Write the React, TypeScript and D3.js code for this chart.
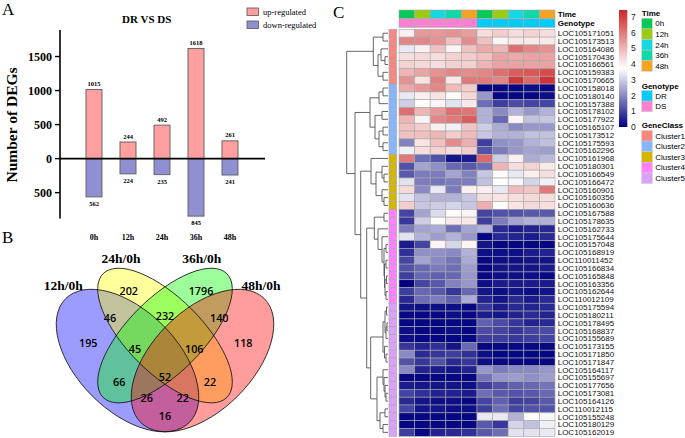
import React from "react";
import * as d3 from "d3";

// ---------- Panel A data ----------
const timePoints = ["0h", "12h", "24h", "36h", "48h"];
const upRegulated = [1015, 244, 492, 1618, 261];
const downRegulated = [562, 224, 235, 845, 241];
const yTicksA = [-500, 0, 500, 1000, 1500];

// ---------- Panel B data ----------
const vennSetNames = ["12h/0h", "24h/0h", "36h/0h", "48h/0h"];
const vennSetColors = ["#0000ff", "#ffff00", "#00ff00", "#ff0000"];
const vennCounts = [195, 202, 1796, 118, 46, 232, 140, 45, 106, 66, 52, 22, 26, 22, 16];
// label anchor positions in VennDiagram unit space
const vennLabelU = [0.193, 0.355, 0.644, 0.813, 0.28, 0.5, 0.717, 0.38, 0.617, 0.317, 0.5, 0.68, 0.427, 0.571, 0.5];
const vennLabelV = [0.541, 0.748, 0.748, 0.541, 0.639, 0.648, 0.639, 0.516, 0.516, 0.385, 0.405, 0.385, 0.321, 0.321, 0.248];

// ---------- Panel C data ----------
const genes = [
  "LOC105171051", "LOC105173513", "LOC105164086", "LOC105170436", "LOC105166561", "LOC105159383", "LOC105170665",
  "LOC105158018", "LOC105180140", "LOC105157388", "LOC105178102", "LOC105177922", "LOC105165107", "LOC105173512",
  "LOC105175593", "LOC105162296", "LOC105161968", "LOC105180301", "LOC105166549", "LOC105166472", "LOC105160901",
  "LOC105160356", "LOC105160636", "LOC105167588", "LOC105178635", "LOC105162733", "LOC105175644", "LOC105157048",
  "LOC105168919", "LOC110011452", "LOC105166834", "LOC105165848", "LOC105163356", "LOC105162644", "LOC110012109",
  "LOC105175594", "LOC105180211", "LOC105178495", "LOC105168837", "LOC105155689", "LOC105173155", "LOC105171850",
  "LOC105171847", "LOC105164117", "LOC105155697", "LOC105177656", "LOC105173081", "LOC105164126", "LOC110012115",
  "LOC105155248", "LOC105180129", "LOC105162019",
];
const geneClusters = [
  1, 1, 1, 1, 1, 1, 1,
  2, 2, 2, 2, 2, 2, 2, 2, 2,
  3, 3, 3, 3, 3, 3, 3,
  4, 4, 4, 4, 4, 4, 4, 4, 4, 4, 4, 4,
  5, 5, 5, 5, 5, 5, 5, 5, 5, 5, 5, 5, 5, 5, 5, 5, 5,
];
const columnTime = ["0h", "12h", "24h", "36h", "48h", "0h", "12h", "24h", "36h", "48h"];
const columnGenotype = ["DS", "DS", "DS", "DS", "DS", "DR", "DR", "DR", "DR", "DR"];
const expression = [
  [4.0, 5.5, 5.5, 5.6, 5.4, 4.3, 4.6, 4.3, 4.5, 4.3],
  [5.8, 5.8, 5.6, 4.8, 5.7, 4.8, 3.9, 4.1, 4.1, 4.1],
  [3.4, 4.0, 4.8, 3.9, 4.8, 5.2, 5.0, 6.2, 5.8, 5.6],
  [4.3, 4.4, 4.3, 4.5, 4.6, 4.8, 5.3, 5.2, 5.3, 5.3],
  [4.5, 4.4, 4.3, 4.5, 4.5, 5.0, 5.3, 5.3, 5.3, 5.3],
  [5.0, 5.3, 5.6, 5.8, 5.7, 5.8, 6.2, 6.5, 6.6, 6.8],
  [5.6, 4.2, 5.9, 4.1, 6.0, 6.0, 5.8, 7.1, 6.3, 7.2],
  [5.2, 5.5, 5.8, 4.9, 4.6, 0.1, 0.1, 0.1, 0.2, 0.1],
  [3.4, 4.0, 4.2, 3.8, 4.4, 2.2, 0.1, 0.1, 0.1, 0.2],
  [3.0, 3.8, 3.9, 3.3, 4.1, 1.6, 0.9, 1.1, 1.0, 1.0],
  [6.2, 5.0, 5.5, 6.2, 6.1, 2.6, 2.0, 2.6, 2.2, 2.6],
  [5.0, 3.9, 5.8, 6.0, 6.5, 2.6, 1.5, 3.9, 2.8, 2.9],
  [4.8, 4.6, 4.0, 3.5, 4.7, 3.0, 2.5, 2.0, 2.2, 2.2],
  [4.8, 4.8, 5.0, 4.6, 4.9, 2.9, 2.6, 2.6, 2.8, 2.8],
  [1.9, 4.2, 4.8, 5.7, 5.1, 0.9, 2.1, 2.2, 2.6, 2.8],
  [3.5, 4.3, 4.5, 4.3, 4.6, 1.2, 1.8, 2.2, 2.4, 2.3],
  [6.0, 1.6, 1.2, 0.3, 0.4, 6.3, 3.0, 4.0, 2.5, 2.7],
  [1.2, 2.4, 2.1, 1.5, 1.3, 1.6, 5.0, 4.3, 4.5, 4.1],
  [1.3, 1.8, 1.8, 2.4, 1.9, 2.9, 3.8, 3.4, 4.0, 4.3],
  [3.3, 1.8, 1.7, 1.8, 1.8, 2.8, 3.7, 3.6, 3.1, 3.5],
  [4.4, 2.0, 3.4, 1.8, 4.0, 4.0, 3.4, 4.9, 4.7, 6.0],
  [3.3, 2.8, 2.6, 2.6, 2.9, 4.3, 4.2, 4.3, 4.4, 4.3],
  [4.6, 2.9, 3.0, 3.1, 2.9, 5.1, 3.8, 4.2, 4.4, 4.3],
  [1.0, 2.4, 3.2, 3.8, 3.9, 1.0, 1.2, 1.2, 1.3, 1.3],
  [0.8, 3.0, 3.8, 4.1, 4.1, 0.9, 1.8, 2.4, 2.6, 2.6],
  [1.8, 2.4, 2.5, 1.6, 2.4, 2.6, 0.6, 0.4, 0.5, 0.6],
  [3.3, 2.6, 2.3, 2.6, 2.2, 0.1, 0.6, 0.5, 0.4, 0.6],
  [0.4, 1.0, 3.9, 3.1, 3.9, 0.3, 0.1, 0.1, 0.1, 0.1],
  [0.7, 2.1, 2.1, 2.0, 2.6, 0.2, 0.2, 0.2, 0.4, 0.5],
  [1.0, 2.4, 2.0, 1.7, 2.5, 0.1, 0.2, 0.2, 0.3, 0.3],
  [1.2, 1.5, 1.8, 1.6, 2.3, 0.1, 0.3, 0.3, 0.3, 0.4],
  [0.9, 1.5, 1.4, 1.5, 2.2, 0.1, 0.2, 0.2, 0.2, 0.1],
  [0.0, 1.0, 1.3, 1.9, 2.2, 0.2, 0.4, 0.4, 0.4, 0.4],
  [0.9, 1.5, 1.3, 0.8, 1.5, 0.3, 0.2, 0.3, 0.2, 0.3],
  [0.6, 1.6, 1.8, 1.4, 2.5, 0.5, 0.3, 0.6, 0.4, 0.6],
  [0.3, 0.2, 0.2, 0.2, 0.1, 0.8, 0.4, 0.6, 0.5, 0.6],
  [0.1, 0.1, 0.1, 0.2, 0.1, 0.4, 0.3, 0.5, 0.6, 0.5],
  [0.1, 0.1, 0.1, 0.1, 0.1, 1.4, 1.1, 0.8, 0.5, 0.6],
  [0.2, 0.1, 0.1, 0.2, 0.1, 1.1, 1.0, 0.8, 1.0, 1.1],
  [0.2, 0.1, 0.1, 0.1, 0.1, 0.9, 0.9, 0.8, 0.9, 1.0],
  [0.8, 0.5, 0.7, 0.3, 1.5, 0.1, 0.1, 0.1, 0.1, 0.1],
  [2.0, 0.6, 0.8, 0.9, 0.7, 0.2, 0.1, 0.1, 0.1, 0.1],
  [1.2, 0.8, 1.2, 0.6, 0.8, 0.2, 0.1, 0.1, 0.1, 0.1],
  [2.0, 0.5, 0.4, 0.3, 0.5, 2.2, 1.8, 2.0, 2.0, 2.2],
  [0.1, 0.1, 0.1, 0.1, 0.1, 1.7, 2.2, 2.3, 2.1, 2.3],
  [0.4, 0.3, 0.3, 0.3, 0.2, 0.9, 1.2, 1.4, 1.5, 1.7],
  [1.0, 0.7, 0.5, 0.5, 0.4, 1.6, 1.3, 1.2, 1.3, 1.5],
  [0.6, 0.3, 0.2, 0.2, 0.1, 1.0, 1.4, 0.9, 1.0, 1.3],
  [1.0, 0.3, 0.3, 0.2, 0.2, 0.9, 1.6, 1.0, 1.2, 1.2],
  [0.1, 0.1, 0.1, 0.1, 0.1, 3.4, 3.4, 2.6, 3.7, 3.6],
  [0.1, 0.1, 0.1, 0.1, 0.1, 1.3, 0.8, 3.1, 2.8, 3.5],
  [0.9, 0.1, 0.5, 0.6, 0.7, 1.3, 1.6, 3.3, 3.3, 3.4],
];
const colorTicks = [0, 1, 2, 3, 4, 5, 6, 7];
const genotypeNames = ["DR", "DS"];
const clusterNames = ["Cluster1", "Cluster2", "Cluster3", "Cluster4", "Cluster5"];

// Row dendrogram: [height, left, right] or leaf row index
const rowTree: any = [41.3,
  [14.7, [5, 0, 1], [10, [7, 2, [3, 3, 4]], [5, 5, 6]]],
  [33,
    [18, [9, [5, 7, 8], 9], [13, [6, 10, 11], [9, [5, 12, 13], [5, 14, 15]]]],
    [27.3,
      [17, 16, [12, [6, 17, [4, 18, 19]], [6, 20, [4, 21, 22]]]],
      [21.3,
        [13.7, [4, 23, 24], [10, 25, [6, 26, [4, [2, 27, 28], [3.5, [2, 29, 30], [3, [1.5, 31, 32], [2, 33, 34]]]]]]],
        [17.3,
          [5, [3, [1.5, 35, 36], [2, [1, 37, 38], 39]], [3.5, 40, [2, 41, 42]]],
          [11, [5, 43, [4, 44, [3, 45, [2, 46, 47]]]], [8, [3, 48, 49], [5, 50, 51]]]]]]]];

// ---------- colours ----------
const upColor = "#FF9F9F";
const downColor = "#8F8FD2";
const timeColors: Record<string, string> = { "0h": "#06C957", "12h": "#9BCB13", "24h": "#14D9E0", "36h": "#0FD9A6", "48h": "#F5A323" };
const genotypeColors: Record<string, string> = { DR: "#00CCF7", DS: "#FB80D2" };
const clusterColors = ["#F8887F", "#85B6FF", "#D4B500", "#FF80FF", "#DBA0F7"];

const serif = "'Liberation Serif', 'Times New Roman', serif";
const sans = "'Liberation Sans', Arial, sans-serif";

function PanelA() {
  const x = d3.scaleBand<string>().domain(timePoints).range([60, 264]).paddingInner(0.53).paddingOuter(0.765);
  const y = d3.scaleLinear().domain([-880, 1890]).range([218.5, 30]);
  const bw = x.bandwidth();
  return (
    <g fill="#000">
      <text x={2} y={15} fontFamily={serif} fontSize={17}>A</text>
      <text x={146.7} y={23} textAnchor="middle" fontFamily={serif} fontWeight="bold" fontSize={11}>DR VS DS</text>
      {/* legend */}
      <rect x={247} y={8} width={11.5} height={7.5} fill={upColor} stroke="#555" strokeWidth={0.8} />
      <text x={263} y={14.5} fontFamily={serif} fontSize={8.5}>up-regulated</text>
      <rect x={247} y={21} width={11.5} height={7.5} fill={downColor} stroke="#555" strokeWidth={0.8} />
      <text x={263} y={27.5} fontFamily={serif} fontSize={8.5}>down-regulated</text>
      {/* bars */}
      {timePoints.map((t, i) => (
        <g key={t}>
          <rect x={x(t)} y={y(upRegulated[i])} width={bw} height={y(0) - y(upRegulated[i])} fill={upColor} stroke="#666" strokeWidth={1} />
          <rect x={x(t)} y={y(0)} width={bw} height={y(-downRegulated[i]) - y(0)} fill={downColor} stroke="#666" strokeWidth={1} />
          <text x={(x(t) as number) + bw / 2} y={y(upRegulated[i]) - 3.5} textAnchor="middle" fontFamily={serif} fontWeight="bold" fontSize={6.5}>{upRegulated[i]}</text>
          <text x={(x(t) as number) + bw / 2} y={y(-downRegulated[i]) + 9} textAnchor="middle" fontFamily={serif} fontWeight="bold" fontSize={6.5}>{downRegulated[i]}</text>
          <text x={(x(t) as number) + bw / 2} y={239.5} textAnchor="middle" fontFamily={serif} fontWeight="bold" fontSize={8}>{t}</text>
        </g>
      ))}
      {/* axes */}
      <line x1={60} x2={60} y1={30} y2={218.5} stroke="#000" strokeWidth={1.6} />
      <line x1={60} x2={265} y1={y(0)} y2={y(0)} stroke="#000" strokeWidth={1.6} />
      {yTicksA.map((t) => (
        <g key={t}>
          <line x1={55} x2={60} y1={y(t)} y2={y(t)} stroke="#000" strokeWidth={1.4} />
          <text x={52} y={y(t)} dy="0.35em" textAnchor="end" fontFamily={serif} fontWeight="bold" fontSize={12}>{Math.abs(t)}</text>
        </g>
      ))}
      <text transform="translate(17,125) rotate(-90)" textAnchor="middle" fontFamily={serif} fontWeight="bold" fontSize={15.5}>Number of DEGs</text>
    </g>
  );
}

function PanelB() {
  const s = 250;
  const px = d3.scaleLinear().domain([0.5, 1.5]).range([165, 165 + s]);
  const py = d3.scaleLinear().domain([0.839, -0.161]).range([268.3, 268.3 + s]);
  const ell = [
    { cx: 0.35, cy: 0.47, a: 0.35, b: 0.2, r: 45 },
    { cx: 0.5, cy: 0.57, a: 0.35, b: 0.15, r: 45 },
    { cx: 0.5, cy: 0.57, a: 0.35, b: 0.15, r: -45 },
    { cx: 0.65, cy: 0.47, a: 0.35, b: 0.2, r: -45 },
  ];
  const setLabelPos = [[0.093, 0.773], [0.324, 0.879], [0.647, 0.879], [0.884, 0.773]];
  return (
    <g fill="#000">
      <text x={2} y={243} fontFamily={serif} fontSize={17}>B</text>
      {ell.map((e, i) => (
        <ellipse key={"f" + i} cx={0} cy={0} rx={e.a * s} ry={e.b * s}
          transform={`translate(${px(e.cx)},${py(e.cy)}) rotate(${e.r})`}
          fill={vennSetColors[i]} fillOpacity={0.39} stroke="none" />
      ))}
      {ell.map((e, i) => (
        <ellipse key={"o" + i} cx={0} cy={0} rx={e.a * s} ry={e.b * s}
          transform={`translate(${px(e.cx)},${py(e.cy)}) rotate(${e.r})`}
          fill="none" stroke="#111" strokeWidth={0.8} />
      ))}
      {vennCounts.map((c, i) => (
        <text key={i} x={px(vennLabelU[i])} y={py(vennLabelV[i])} dy="0.36em" textAnchor="middle"
          fontFamily="'Open Sans', sans-serif" fontWeight={600} fontSize={10.8}>{c}</text>
      ))}
      {vennSetNames.map((n, i) => (
        <text key={n} x={px(setLabelPos[i][0])} y={py(setLabelPos[i][1])} dy="0.35em" textAnchor="middle"
          fontFamily={serif} fontWeight="bold" fontSize={13.5}>{n}</text>
      ))}
    </g>
  );
}

function PanelC() {
  const cols = d3.range(columnTime.length);
  const x = d3.scaleBand<number>().domain(cols).range([399, 555]);
  const y = d3.scaleBand<number>().domain(d3.range(genes.length)).range([29.3, 436.3]);
  const color = d3.scaleLinear<string>().domain([0, 3.725, 7.45]).range(["#000080", "#ffffff", "#CD2626"]);
  const cb = d3.scaleLinear().domain([0, 7.45]).range([127, 10]);
  const dx = d3.scaleLinear().domain([0, 41.3]).range([388, 346.7]);

  // dendrogram via d3.hierarchy
  const root = d3.hierarchy<any>(rowTree, (d) => (Array.isArray(d) ? d.slice(1) : null));
  const pos = new Map<any, { x: number; y: number }>();
  root.eachAfter((n: any) => {
    if (!n.children) {
      pos.set(n, { x: dx(0), y: (y(n.data) as number) + y.bandwidth() / 2 });
    } else {
      const ys = n.children.map((c: any) => pos.get(c)!.y);
      pos.set(n, { x: dx(n.data[0]), y: (ys[0] + ys[ys.length - 1]) / 2 });
    }
  });
  const segs: string[] = [];
  root.each((n: any) => {
    if (!n.children) return;
    const p = pos.get(n)!;
    const c0 = pos.get(n.children[0])!;
    const c1 = pos.get(n.children[1])!;
    segs.push(`M${c0.x},${c0.y}H${p.x}V${c1.y}H${c1.x}`);
  });

  const border = "#A8A8A8";
  const lx = 641.7;
  const box = 10.6;
  return (
    <g fill="#000">
      <text x={333} y={18} fontFamily={serif} fontSize={17}>C</text>
      <path d={segs.join("")} fill="none" stroke="#555" strokeWidth={0.9} />
      {/* column annotations */}
      {cols.map((c) => (
        <g key={c}>
          <rect x={x(c)} y={10} width={x.bandwidth()} height={8.6} fill={timeColors[columnTime[c]]} stroke={border} strokeWidth={0.6} />
          <rect x={x(c)} y={18.9} width={x.bandwidth()} height={8.4} fill={genotypeColors[columnGenotype[c]]} stroke={border} strokeWidth={0.6} />
        </g>
      ))}
      <text x={557.7} y={14.5} dy="0.35em" fontFamily={sans} fontWeight="bold" fontSize={8}>Time</text>
      <text x={557.7} y={23.2} dy="0.35em" fontFamily={sans} fontWeight="bold" fontSize={8}>Genotype</text>
      {/* row annotation + cells */}
      {genes.map((g, r) => (
        <g key={g}>
          <rect x={389} y={y(r)} width={7.7} height={y.bandwidth()} fill={clusterColors[geneClusters[r] - 1]} stroke={border} strokeWidth={0.6} />
          {cols.map((c) => (
            <rect key={c} x={x(c)} y={y(r)} width={x.bandwidth()} height={y.bandwidth()} fill={color(expression[r][c])} stroke={border} strokeWidth={0.6} />
          ))}
          <text x={557.7} y={(y(r) as number) + y.bandwidth() / 2} dy="0.36em" fontFamily={sans} fontSize={8} fill="#111">{g}</text>
        </g>
      ))}
      {/* colour bar */}
      <defs>
        <linearGradient id="cbgrad" x1="0" y1="1" x2="0" y2="0">
          {d3.range(0, 1.0001, 0.05).map((t) => (
            <stop key={t} offset={t} stopColor={color(t * 7.45)} />
          ))}
        </linearGradient>
      </defs>
      <rect x={619} y={cb(7.45)} width={8.3} height={cb(0) - cb(7.45)} fill="url(#cbgrad)" />
      {colorTicks.map((t) => (
        <text key={t} x={631} y={cb(t)} dy="0.35em" fontFamily={sans} fontSize={8.5} fill="#222">{t}</text>
      ))}
      {/* legends */}
      <text x={lx} y={12.7} dy="0.35em" fontFamily={sans} fontWeight="bold" fontSize={8}>Time</text>
      {timePoints.map((t, i) => (
        <g key={t}>
          <rect x={lx} y={18.3 + i * box} width={box} height={box} fill={timeColors[t]} stroke="#ccc" strokeWidth={0.5} />
          <text x={lx + 13.5} y={18.3 + i * box + box / 2} dy="0.35em" fontFamily={sans} fontSize={8}>{t}</text>
        </g>
      ))}
      <text x={lx} y={85.7} dy="0.35em" fontFamily={sans} fontWeight="bold" fontSize={8}>Genotype</text>
      {genotypeNames.map((t, i) => (
        <g key={t}>
          <rect x={lx} y={90.5 + i * box} width={box} height={box} fill={genotypeColors[t]} stroke="#ccc" strokeWidth={0.5} />
          <text x={lx + 13.5} y={90.5 + i * box + box / 2} dy="0.35em" fontFamily={sans} fontSize={8}>{t}</text>
        </g>
      ))}
      <text x={lx} y={125} dy="0.35em" fontFamily={sans} fontWeight="bold" fontSize={8}>GeneClass</text>
      {clusterNames.map((t, i) => (
        <g key={t}>
          <rect x={lx} y={130.5 + i * box} width={box} height={box} fill={clusterColors[i]} stroke="#ccc" strokeWidth={0.5} />
          <text x={lx + 13.5} y={130.5 + i * box + box / 2} dy="0.35em" fontFamily={sans} fontSize={8}>{t}</text>
        </g>
      ))}
    </g>
  );
}

export default function App() {
  return (
    <svg width={685} height={438} viewBox="0 0 685 438"
      style={{ position: "absolute", left: 0, top: 0, background: "#fff" }}>
      <rect width={685} height={438} fill="#fff" />
      <PanelA />
      <PanelB />
      <PanelC />
    </svg>
  );
}
